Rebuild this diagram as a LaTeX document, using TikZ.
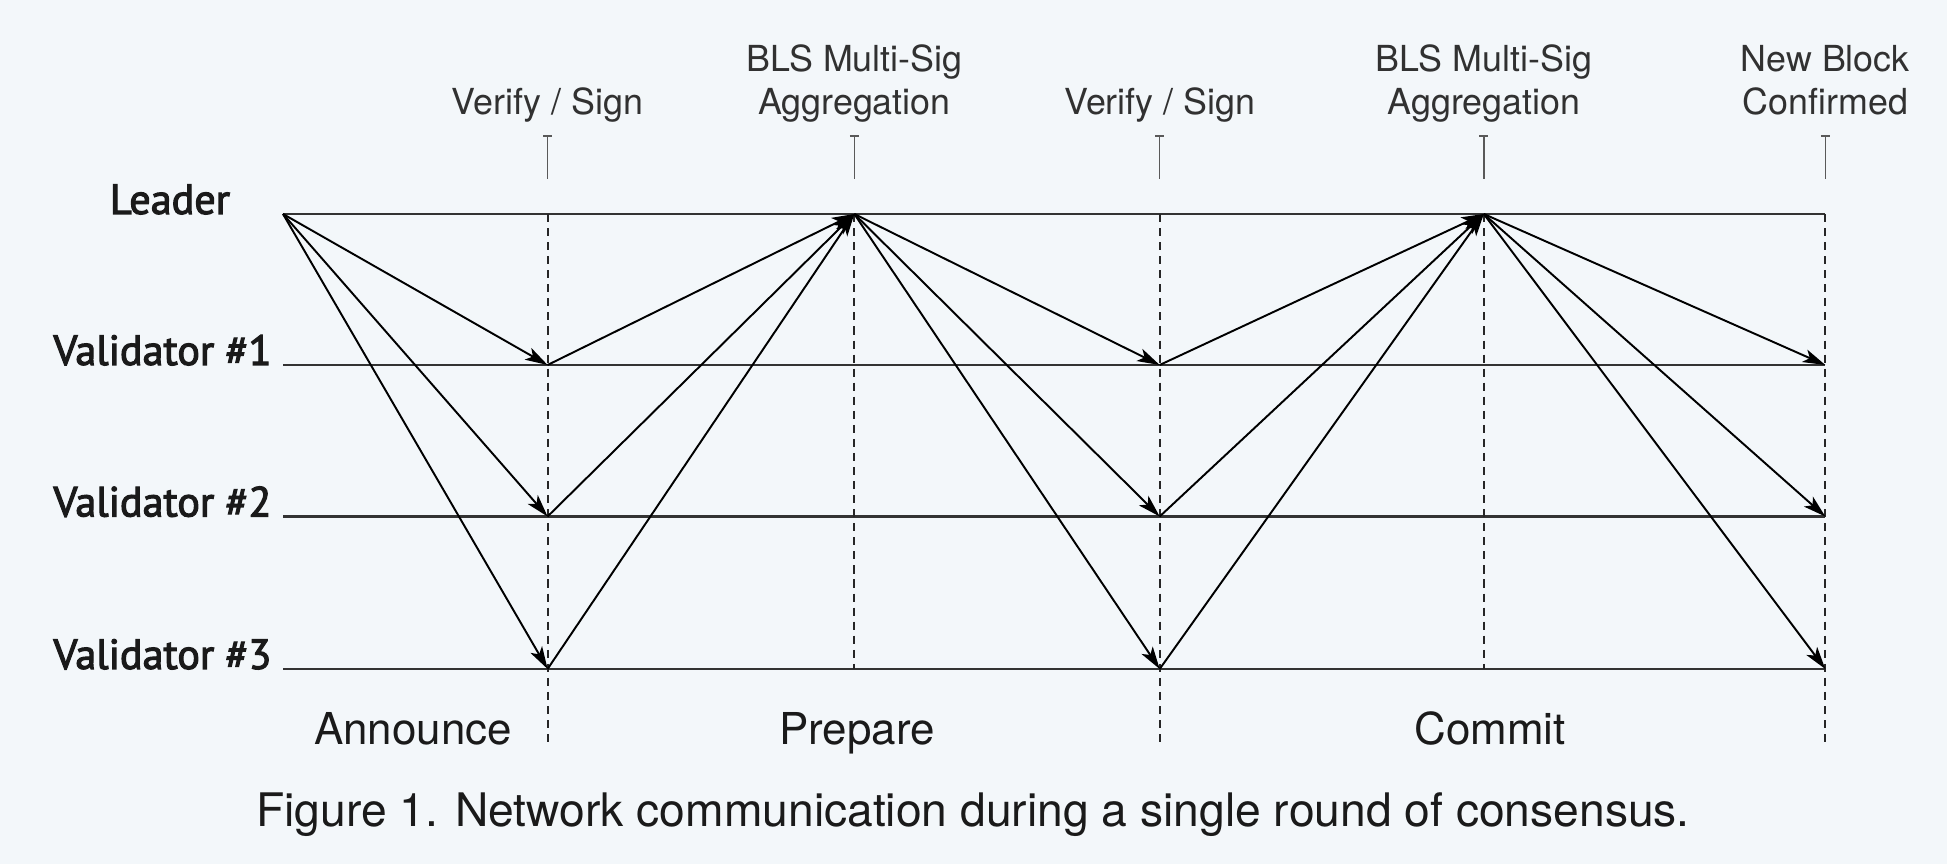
\documentclass[tikz,border=0pt]{standalone}
\usepackage{fontspec}
\setmainfont{TeX Gyre Heros}
\newfontfamily\lanefont{PT Sans}[FakeBold=2.6]
\usetikzlibrary{arrows.meta}
\definecolor{bgcol}{HTML}{F3F7FA}
\definecolor{inkcol}{HTML}{1A1A1A}

\begin{document}
\begin{tikzpicture} [lane/.style={draw=black!80, line width=0.6pt},
                    msg/.style={draw=black, line width=0.55pt, -{Stealth[length=6.4pt,width=3.8pt,inset=1.6pt]}},
                    phase/.style={draw=black!85, line width=0.55pt, dash pattern=on 2.3pt off 1.7pt},
                    tick/.style={draw=black!65, line width=0.45pt, {Bar[width=2.5pt,line width=0.45pt]}-},
                    who/.style={font=\lanefont\fontsize{12}{14}\selectfont, text=inkcol, anchor=base, inner sep=0pt},
                    toplabel/.style={font=\fontsize{10.2}{12.2}\selectfont, text=inkcol!90, align=center, anchor=south, inner sep=0pt, text depth=2.5pt},
                    stage/.style={font=\fontsize{12.5}{15}\selectfont, text=inkcol, anchor=base, inner sep=0pt}]
                    \fill[bgcol] (0,0) rectangle (19.47,8.64);
                    % lanes
                    \coordinate (l0) at (2.83,6.50);
                    \coordinate (l1) at (5.476,6.50);
                    \coordinate (l2) at (8.543,6.50);
                    \coordinate (l3) at (11.597,6.50);
                    \coordinate (l4) at (14.838,6.50);
                    \coordinate (l5) at (18.253,6.50);
                    \coordinate (a0) at (2.83,4.99);
                    \coordinate (a1) at (5.476,4.99);
                    \coordinate (a3) at (11.597,4.99);
                    \coordinate (a5) at (18.253,4.99);
                    \coordinate (b0) at (2.83,3.475);
                    \coordinate (b1) at (5.476,3.475);
                    \coordinate (b3) at (11.597,3.475);
                    \coordinate (b5) at (18.253,3.475);
                    \coordinate (c0) at (2.83,1.95);
                    \coordinate (c1) at (5.476,1.95);
                    \coordinate (c2) at (8.543,1.95);
                    \coordinate (c3) at (11.597,1.95);
                    \coordinate (c4) at (14.838,1.95);
                    \coordinate (c5) at (18.253,1.95);
                    \coordinate (d1) at (5.476,1.17);
                    \coordinate (d3) at (11.597,1.17);
                    \coordinate (d5) at (18.253,1.17);
                    \node[who] (leader) at (1.70,6.50) {Leader};
                    \node[who] (val1) at (1.625,4.99) {Validator \#1};
                    \node[who] (val2) at (1.625,3.475) {Validator \#2};
                    \node[who] (val3) at (1.625,1.95) {Validator \#3};
                    \draw[lane] (l0) -- (l5);
                    \draw[lane] (a0) -- (a5);
                    \draw[lane] (b0) -- (b5);
                    \draw[lane] (c0) -- (c5);
                    % phase boundaries
                    \draw[phase] (l1) -- (d1);
                    \draw[phase] (l2) -- (c2);
                    \draw[phase] (l3) -- (d3);
                    \draw[phase] (l4) -- (c4);
                    \draw[phase] (l5) -- (d5);
                    % ticks and labels on top
                    \foreach \x/\n in {5.476/1,8.543/2,11.597/3,14.838/4,18.253/5} {
                        \coordinate (t\n) at (\x,7.29);
                        \coordinate (s\n) at (\x,6.85);
                        \draw[tick] (t\n) -- (s\n);
                    }
                    \node[toplabel] (verify1) at (5.476,7.40) {Verify / Sign};
                    \node[toplabel] (bls1) at (8.543,7.40) {BLS Multi-Sig\\Aggregation};
                    \node[toplabel] (verify2) at (11.597,7.40) {Verify / Sign};
                    \node[toplabel] (bls2) at (14.838,7.40) {BLS Multi-Sig\\Aggregation};
                    \node[toplabel] (newblock) at (18.253,7.40) {New Block\\Confirmed};
                    % announce
                    \draw (l0) edge[msg] (a1);
                    \draw (l0) edge[msg] (b1);
                    \draw (l0) edge[msg] (c1);
                    % prepare
                    \draw (a1) edge[msg] (l2);
                    \draw (b1) edge[msg] (l2);
                    \draw (c1) edge[msg] (l2);
                    \draw (l2) edge[msg] (a3);
                    \draw (l2) edge[msg] (b3);
                    \draw (l2) edge[msg] (c3);
                    % commit
                    \draw (a3) edge[msg] (l4);
                    \draw (b3) edge[msg] (l4);
                    \draw (c3) edge[msg] (l4);
                    \draw (l4) edge[msg] (a5);
                    \draw (l4) edge[msg] (b5);
                    \draw (l4) edge[msg] (c5);
                    \node[stage] (announce) at (4.13,1.19) {Announce};
                    \node[stage] (prepare) at (8.57,1.19) {Prepare};
                    \node[stage] (commit) at (14.90,1.19) {Commit};
                    \node[stage, font=\fontsize{13.15}{15}\selectfont] (caption) at (9.73,0.373) {Figure 1. Network communication during a single round of consensus.};
                \end{tikzpicture}
\end{document}
